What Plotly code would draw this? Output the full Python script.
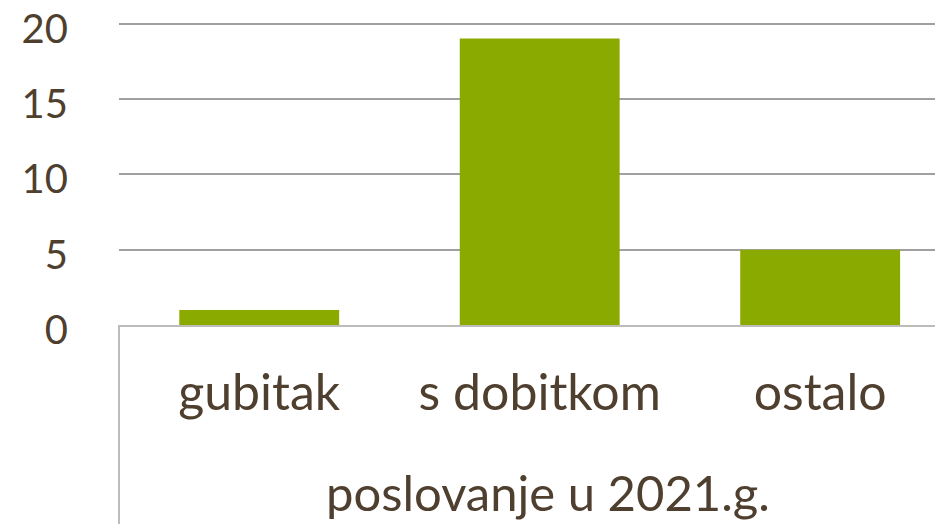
import plotly.graph_objects as go

categories = ["gubitak", "s dobitkom", "ostalo"]
values = [1, 19, 5]
y_ticks = [0, 5, 10, 15, 20]
axis_title = "poslovanje u 2021.g."

text_color = "#4f3f2f"
bar_color = "#8aaa00"
font_family = "Lato, 'Open Sans', sans-serif"

fig = go.Figure(go.Bar(x=categories, y=values, marker=dict(color=bar_color, line=dict(width=0)), width=0.57))

# the page body adds an 8px offset, so the figure is sized 935x516
fig.update_layout(
    width=935, height=516,
    margin=dict(l=111, r=0, t=14, b=199),
    paper_bgcolor="white", plot_bgcolor="white",
    showlegend=False, bargap=0.43,
    font=dict(family=font_family, color=text_color),
)
fig.update_yaxes(
    range=[0, 20.1], tickvals=y_ticks, showgrid=True, gridcolor="#a0a0a0", gridwidth=1.5,
    zeroline=False, showline=False, ticks="", ticklabelstandoff=50, automargin=False,
    ticklabeloverflow="allow", ticklabelshift=5,
    tickfont=dict(size=40, color=text_color),
)
fig.update_xaxes(
    range=[-0.5, 2.438], showline=True, linecolor="#bcbcbc", linewidth=2,
    showgrid=False, ticks="", ticklabelstandoff=23, automargin=False,
    ticklabeloverflow="allow",
    tickfont=dict(size=50, color=text_color),
)
# vertical category-axis border line on the left, extending below the plot
fig.add_shape(type="line", xref="x domain", yref="paper", x0=0, x1=0, y0=0, y1=-0.7,
              line=dict(color="#bcbcbc", width=2))
fig.add_annotation(text=axis_title, xref="paper", yref="paper", x=(548 - 119) / 824, y=-0.55,
                   xanchor="center", yanchor="middle", showarrow=False,
                   font=dict(size=49, color=text_color, family=font_family))

fig.write_html("out.html")
